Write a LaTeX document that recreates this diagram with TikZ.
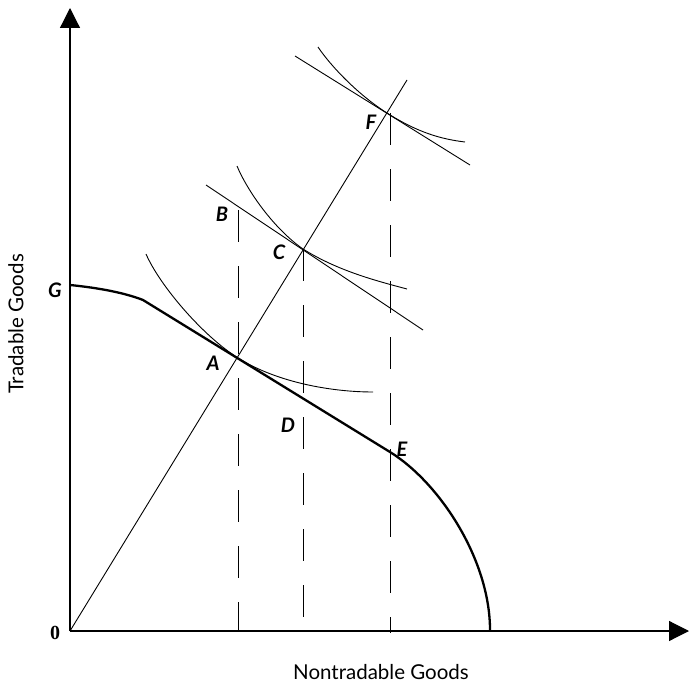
\documentclass[tikz,border=0pt]{standalone}
\usepackage{fontspec}
\setmainfont{Lato}
\newfontfamily\zerofont{Liberation Serif}
\usetikzlibrary{arrows.meta}
\begin{document}
\begin{tikzpicture}[x=1pt,y=-1pt,
 axisline/.style={line width=1.2pt, -{Triangle[length=20pt,width=20pt]}},
 thinline/.style={line width=0.9pt},
 ppfline/.style={line width=2.3pt},
 vdash/.style={line width=1pt, dash pattern=on 32pt off 24pt},
 ptlabel/.style={font=\fontsize{20}{20}\selectfont\bfseries\itshape, inner sep=0pt},
 axtitle/.style={font=\fontsize{20.5}{21}\selectfont, inner sep=0pt}]
\useasboundingbox (0,0) rectangle (689,685);
% key points
\coordinate (O) at (70,631);
\coordinate (Ytop) at (70,8);
\coordinate (Xend) at (689,631);
\coordinate (G) at (70,285);
\coordinate (K) at (143,300);
\coordinate (A) at (238,358);
\coordinate (E) at (390,452);
\coordinate (Xcut) at (490,630);
\coordinate (C) at (303,249);
\coordinate (F) at (387,113);
\coordinate (R) at (407,80);
\coordinate (Btop) at (238,210);
\coordinate (Abot) at (238,631);
\coordinate (Cbot) at (303,631);
\coordinate (Fbot) at (390,633);
\coordinate (Ftop) at (390,113);
% axes
\draw[axisline] (O) -- (Ytop);
\draw[axisline] (O) -- (Xend);
% ray from origin
\draw[thinline] (O) -- (R);
% production possibility frontier
\draw[ppfline] (G) .. controls (100,288) and (125,293) .. (K) -- (E)
  .. controls (440,483) and (490,560) .. (Xcut);
% dashed verticals
\draw[vdash] (Btop) -- (Abot);
\draw[vdash] (C) -- (Cbot);
\draw[vdash] (Ftop) -- (Fbot);
% indifference curve at A
\coordinate (I1s) at (146,254);
\coordinate (I1e) at (373,392);
\draw[thinline] (I1s) .. controls (160,286) and (203,336) .. (A)
  .. controls (278,383) and (333,392) .. (I1e);
% indifference curve and tangent at C
\coordinate (I2s) at (237,166);
\coordinate (I2e) at (407,289);
\coordinate (T2s) at (206,185);
\coordinate (T2e) at (423,330);
\draw[thinline] (I2s) .. controls (247,190) and (273,228) .. (C)
  .. controls (338,271) and (377,281) .. (I2e);
\draw[thinline] (T2s) -- (T2e);
% indifference curve and tangent at F
\coordinate (I3s) at (318,47);
\coordinate (I3e) at (465,142);
\coordinate (T3s) at (295,56);
\coordinate (T3e) at (470,165);
\draw[thinline] (I3s) .. controls (330,65) and (357,94) .. (F)
  .. controls (417,132) and (440,139) .. (I3e);
\draw[thinline] (T3s) -- (T3e);
% labels
\node[ptlabel] (lG) at (55,290) {G};
\node[ptlabel] (lA) at (213,363) {A};
\node[ptlabel] (lB) at (222,214) {B};
\node[ptlabel] (lC) at (279,252) {C};
\node[ptlabel] (lD) at (288,425) {D};
\node[ptlabel] (lE) at (402,449) {E};
\node[ptlabel] (lF) at (371,122) {F};
\node[inner sep=0pt, font=\zerofont\fontsize{20}{20}\selectfont\bfseries] (l0) at (55,633) {0};
\node[axtitle] (xt) at (381,672) {Nontradable Goods};
\node[axtitle, rotate=90] (yt) at (16,324) {Tradable Goods};
\end{tikzpicture}
\end{document}
